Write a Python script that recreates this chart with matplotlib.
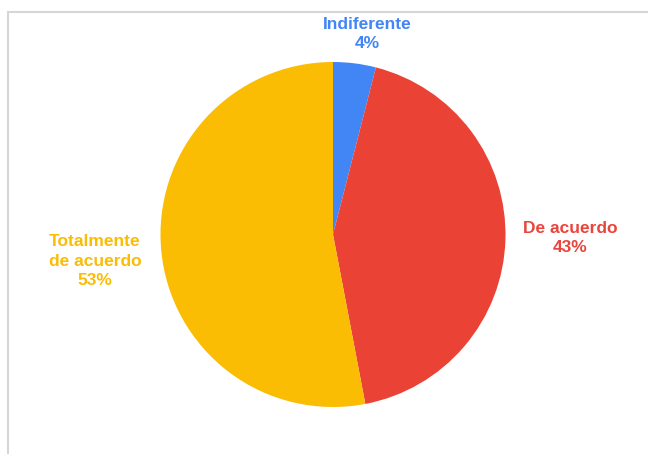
import matplotlib.pyplot as plt
from matplotlib.patches import Rectangle

labels = ['Indiferente', 'De acuerdo', 'Totalmente\nde acuerdo']
shares = [4, 43, 53]
colors = ['#4285F4', '#EA4335', '#FBBC04']
text_colors = ['#4285F4', '#E8453C', '#FBBC04']

W, H = 648, 454

fig = plt.figure(figsize=(W / 100, H / 100), dpi=100)
ax = fig.add_axes([0, 0, 1, 1])

# slices run clockwise from 12 o'clock
wedges, _ = ax.pie(shares, colors=colors, startangle=90, counterclock=False,
                   center=(333, H - 234.5), radius=172.5,
                   wedgeprops=dict(linewidth=0))

ax.set_xlim(0, W)
ax.set_ylim(0, H)
ax.set_aspect('equal')
ax.axis('off')

# frame around the chart area
ax.add_patch(Rectangle((7.5, -10), 700, H - 11.5 + 10, fill=False,
                       edgecolor='#d6d6d6', linewidth=1.5))

label_pos = [(367, 34), (570, 238), (95, 261)]
for lab, val, pos, col in zip(labels, shares, label_pos, text_colors):
    ax.text(pos[0], H - pos[1], f'{lab}\n{val}%', ha='center', va='center',
            color=col, fontsize=12.5, fontweight='bold', linespacing=1.35,
            family='Liberation Sans')

fig.savefig('out.png', dpi=100)
